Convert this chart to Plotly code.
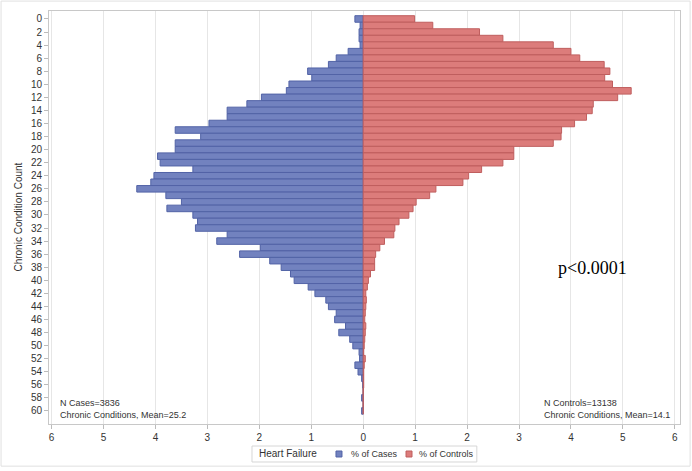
import plotly.graph_objects as go

counts = list(range(0, 61))
cases = [0.16, 0.06, 0.08, 0.08, 0.06, 0.29, 0.52, 0.67, 1.07, 0.99,
         1.43, 1.48, 1.96, 2.24, 2.62, 2.62, 2.97, 3.62, 3.13, 3.62,
         3.62, 3.96, 3.91, 3.28, 4.03, 4.09, 4.36, 3.80, 3.50, 3.78,
         3.28, 3.19, 3.23, 2.62, 2.82, 1.98, 2.38, 1.80, 1.58, 1.40,
         1.33, 1.06, 0.93, 0.72, 0.67, 0.52, 0.55, 0.34, 0.47, 0.26,
         0.20, 0.08, 0.07, 0.16, 0.10, 0.03, 0.01, 0.0, 0.03, 0.0, 0.03]
controls = [0.99, 1.34, 2.24, 2.69, 3.66, 4.00, 4.17, 4.64, 4.75, 4.65,
            4.80, 5.16, 4.90, 4.43, 4.41, 4.30, 4.07, 3.82, 3.81, 3.66,
            2.90, 2.90, 2.69, 2.28, 2.03, 1.92, 1.40, 1.28, 1.02, 0.96,
            0.88, 0.69, 0.61, 0.59, 0.41, 0.32, 0.24, 0.22, 0.22, 0.14,
            0.10, 0.08, 0.05, 0.06, 0.05, 0.04, 0.03, 0.05, 0.04, 0.03,
            0.02, 0.01, 0.04, 0.02, 0.01, 0.01, 0.01, 0.0, 0.0, 0.0, 0.0]
x_ticks = [-6, -5, -4, -3, -2, -1, 0, 1, 2, 3, 4, 5, 6]
x_ticklabels = ["6", "5", "4", "3", "2", "1", "0", "1", "2", "3", "4", "5", "6"]
y_ticks = list(range(0, 61, 2))

FONT = "Liberation Sans, Arial, sans-serif"
BLUE, BLUE_LINE = "#7282BF", "#5263A6"
RED, RED_LINE = "#DC7C7B", "#BF5E5E"
TXT = "#333333"

fig = go.Figure()
fig.add_trace(go.Bar(
    y=counts, x=[-v for v in cases], orientation="h", width=1,
    name="% of Cases",
    marker=dict(color=BLUE, line=dict(color=BLUE_LINE, width=1)),
))
fig.add_trace(go.Bar(
    y=counts, x=controls, orientation="h", width=1,
    name="% of Controls",
    marker=dict(color=RED, line=dict(color=RED_LINE, width=1)),
))

ann = dict(xref="paper", yref="paper", showarrow=False)
annotations = [
    dict(text="N Cases=3836<br>Chronic Conditions, Mean=25.2", x=0.014, y=0.005,
         xanchor="left", yanchor="bottom", align="left", font=dict(size=9, color=TXT), **ann),
    dict(text="N Controls=13138<br>Chronic Conditions, Mean=14.1", x=0.987, y=0.005,
         xanchor="right", yanchor="bottom", align="left", font=dict(size=9, color=TXT), **ann),
    dict(text="p<0.0001", x=0.803, y=0.377, xanchor="left", yanchor="middle",
         font=dict(size=18, color="black", family="Liberation Serif, Times New Roman, serif"), **ann),
    dict(text="Chronic Condition Count", x=-0.049, y=0.5, xanchor="center", yanchor="middle",
         textangle=-90, font=dict(size=10, color=TXT), **ann),
    # legend texts
    dict(text="Heart Failure", x=0.3296, y=-0.0726, xanchor="left", yanchor="middle",
         font=dict(size=10, color=TXT), **ann),
    dict(text="% of Cases", x=0.4754, y=-0.0726, xanchor="left", yanchor="middle",
         font=dict(size=9, color=TXT), **ann),
    dict(text="% of Controls", x=0.5832, y=-0.0726, xanchor="left", yanchor="middle",
         font=dict(size=9, color=TXT), **ann),
]

shapes = [
    dict(type="rect", xref="paper", yref="paper", x0=-0.076, x1=1.016, y0=-0.102, y1=1.024,
         line=dict(color="#E0E0E0", width=1), fillcolor="rgba(0,0,0,0)", layer="below"),
    dict(type="rect", xref="paper", yref="paper", x0=0.3217, x1=0.678, y0=-0.092, y1=-0.0533,
         line=dict(color="#D6D6D6", width=1), fillcolor="white"),
    dict(type="rect", xref="paper", yref="paper", x0=0.4548, x1=0.4643, y0=-0.0799, y1=-0.0654,
         line=dict(color=BLUE_LINE, width=1), fillcolor=BLUE),
    dict(type="rect", xref="paper", yref="paper", x0=0.5658, x1=0.5753, y0=-0.0799, y1=-0.0654,
         line=dict(color=RED_LINE, width=1), fillcolor=RED),
]

fig.update_layout(
    width=692, height=471,
    barmode="overlay",
    paper_bgcolor="white", plot_bgcolor="white",
    margin=dict(l=49, r=12, t=11, b=47, autoexpand=False),
    font=dict(family=FONT, size=10, color=TXT),
    showlegend=False,
    hovermode=False,
    xaxis=dict(
        range=[-6.05, 6.1], tickvals=x_ticks, ticktext=x_ticklabels,
        showgrid=True, gridcolor="#E6E6E6", gridwidth=1,
        zeroline=False, ticks="outside", ticklen=4, tickcolor="#BBBBBB",
        showline=True, linecolor="#C8C8C8", mirror=True, automargin=False,
        tickfont=dict(size=10, color=TXT),
    ),
    yaxis=dict(
        range=[62.0, -1.22], tickvals=y_ticks,
        showgrid=False, zeroline=False,
        ticks="outside", ticklen=4, tickcolor="#BBBBBB",
        showline=True, linecolor="#C8C8C8", mirror=True, automargin=False,
        tickfont=dict(size=10, color=TXT),
    ),
    annotations=annotations,
    shapes=shapes,
)

fig.write_html("out.html",
               config={"displayModeBar": False},
               post_script="document.body.style.margin='0';document.body.style.overflow='hidden';")
